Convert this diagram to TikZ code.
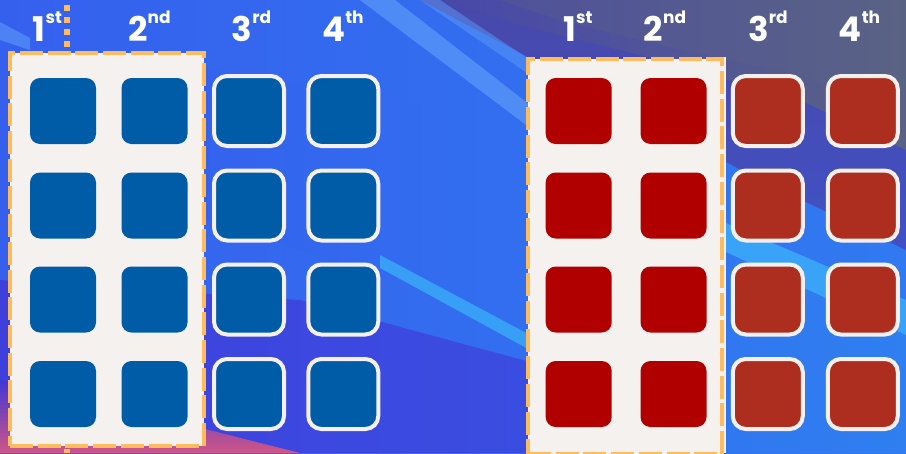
\documentclass[tikz,border=0pt]{standalone}
\usepackage{fontspec}
\newfontfamily\lblfont{Poppins}[UprightFont=* Bold]
\definecolor{bgbase}{HTML}{3560EE}
\definecolor{azure}{HTML}{2F80F0}
\definecolor{cyanstreak}{HTML}{3AA8F8}
\definecolor{lightstreak}{HTML}{5C9AF8}
\definecolor{violet}{HTML}{4236D6}
\definecolor{purplebg}{HTML}{4848AA}
\definecolor{graybg}{HTML}{5A6284}
\definecolor{pinkbg}{HTML}{E0587E}
\definecolor{sqblue}{HTML}{015CA8}
\definecolor{sqred}{HTML}{B00000}
\definecolor{sqbrick}{HTML}{AD2E1E}
\definecolor{panelfill}{HTML}{F5F1EF}
\definecolor{sqwhite}{HTML}{F5F0EE}
\definecolor{dashorange}{HTML}{FFBB5C}
\newcommand\ordlbl[2]{{\fontsize{34}{34}\selectfont #1}\raisebox{18pt}{\fontsize{17}{17}\selectfont #2}}
\begin{document}
\begin{tikzpicture}[x=1pt,y=-1pt,
  plainsq/.style={rectangle, rounded corners=10pt, minimum size=66pt, inner sep=0pt},
  bsq/.style={rectangle, rounded corners=13pt, minimum size=70pt, inner sep=0pt, draw=sqwhite, line width=4pt},
  panel/.style={rectangle, inner sep=0pt, fill=panelfill, draw=dashorange, line width=4pt, dash pattern=on 23pt off 4.7pt},
  ordinal/.style={anchor=base, inner sep=0pt, text=white, font=\lblfont}
]
\useasboundingbox (0,0) rectangle (906,453);
% ---------- background ----------
\shade[left color=bgbase, right color=azure!80!bgbase] (0,0) rectangle (906,453);
% top-right gray / purple
\shade[top color=purplebg, bottom color=purplebg!60!bgbase] (420,0) -- (906,0) -- (906,250) -- (760,180) -- (600,95) -- cycle;
\shade[left color=purplebg, right color=graybg] (440,0) -- (906,0) -- (906,150) -- (800,100) -- (640,55) -- (520,25) -- cycle;
\shade[left color=graybg!40!purplebg, right color=graybg] (500,0) -- (906,0) -- (906,120) -- (800,75) -- (660,45) -- (560,20) -- cycle;
% azure middle band
\shade[left color=bgbase, right color=azure, opacity=0.9] (150,60) -- (450,110) -- (906,300) -- (906,453) -- (700,453) -- (450,300) -- (150,200) -- cycle;
% light streaks
\fill[lightstreak, opacity=0.7] (360,0) -- (395,0) -- (530,105) -- (530,128) -- cycle;
\fill[lightstreak, opacity=0.5] (420,0) -- (440,0) -- (530,60) -- (530,75) -- cycle;
\fill[cyanstreak, opacity=0.85] (380,255) -- (530,335) -- (530,350) -- (380,268) -- cycle;
\fill[cyanstreak, opacity=0.9] (700,212) -- (906,300) -- (906,335) -- (700,240) -- cycle;
% violet lower band
\shade[left color=violet, right color=violet!70!bgbase, opacity=0.75] (0,280) -- (300,300) -- (560,370) -- (560,453) -- (0,453) -- cycle;
% pink bottom-left
\shade[top color=violet, bottom color=pinkbg, opacity=0.9] (0,380) -- (90,400) -- (300,453) -- (0,453) -- cycle;
\fill[lightstreak, opacity=0.6] (0,22) -- (30,38) -- (30,50) -- (0,40) -- cycle;
% ---------- panels ----------
\fill[sqwhite] (722,57) rectangle (726,453);
\node[panel, minimum width=193.7pt, minimum height=393.3pt] (lpanel) at (106.85,249.65) {};
\node[panel, minimum width=194pt, minimum height=395pt] (rpanel) at (625,256.5) {};
% dotted marker above left panel
\foreach \yy in {5,17,29,41} \fill[dashorange] (64,\yy) rectangle (70,\yy+6);
\fill[dashorange] (64,448.5) rectangle (70,453);
% ---------- squares ----------
\foreach \r/\yy in {1/111,2/205.5,3/299.5,4/394}{
  \node[plainsq, fill=sqblue] (b1\r) at (63,\yy) {};
  \node[plainsq, fill=sqblue] (b2\r) at (154.5,\yy) {};
  \node[bsq, fill=sqblue] (b3\r) at (249,\yy) {};
  \node[bsq, fill=sqblue] (b4\r) at (343.3,\yy) {};
  \node[plainsq, fill=sqred] (r1\r) at (578.7,\yy) {};
  \node[plainsq, fill=sqred] (r2\r) at (673.5,\yy) {};
  \node[bsq, fill=sqbrick] (r3\r) at (767.8,\yy) {};
  \node[bsq, fill=sqbrick] (r4\r) at (862.8,\yy) {};
}
% ---------- labels ----------
\node[ordinal] (l1) at (47.5,41) {\ordlbl{1}{st}};
\node[ordinal] (l2) at (149.5,41) {\ordlbl{2}{nd}};
\node[ordinal] (l3) at (251.5,41) {\ordlbl{3}{rd}};
\node[ordinal] (l4) at (343,41) {\ordlbl{4}{th}};
\node[ordinal] (m1) at (578,41) {\ordlbl{1}{st}};
\node[ordinal] (m2) at (665,41) {\ordlbl{2}{nd}};
\node[ordinal] (m3) at (768,41) {\ordlbl{3}{rd}};
\node[ordinal] (m4) at (859.5,41) {\ordlbl{4}{th}};
\end{tikzpicture}
\end{document}
